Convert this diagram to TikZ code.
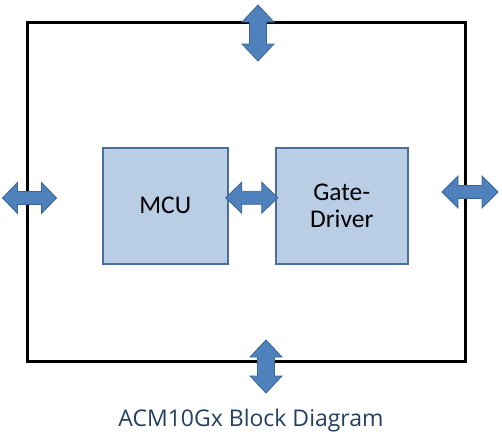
\documentclass[tikz,border=0pt]{standalone}
\usepackage{fontspec}
\usetikzlibrary{calc}
\newfontfamily\boxfont{Carlito}
\newfontfamily\capfont{Open Sans}
\definecolor{boxfill}{HTML}{B9CDE5}
\definecolor{boxline}{HTML}{4A6F9C}
\definecolor{arrfill}{HTML}{4F81BD}
\definecolor{arrline}{HTML}{3A6596}
\definecolor{captext}{HTML}{243F60}
\tikzset{
  blockbox/.style={draw=boxline, line width=2pt, fill=boxfill, inner sep=0pt,
    font=\boxfont\fontsize{25.5}{27}\selectfont, align=center},
  frame/.style={draw=black, line width=3pt},
  dblarr/.style={fill=arrfill, draw=arrline, line width=0.8pt, line join=miter},
}
% \dblarrowshape{center}{angle}{length}{head width}{shaft width}{head length}
\newcommand{\dblarrowshape}[6]{%
  \begin{scope}[shift={#1}, rotate=#2]
    \pgfmathsetmacro{\hl}{#3/2}
    \pgfmathsetmacro{\hw}{#4/2}
    \pgfmathsetmacro{\sw}{#5/2}
    \pgfmathsetmacro{\hb}{#3/2-#6}
    \path[dblarr] (-\hl,0) -- (-\hb,-\hw) -- (-\hb,-\sw) -- (\hb,-\sw) -- (\hb,-\hw)
      -- (\hl,0) -- (\hb,\hw) -- (\hb,\sw) -- (-\hb,\sw) -- (-\hb,\hw) -- cycle;
  \end{scope}}
\begin{document}
\begin{tikzpicture}[x=1pt,y=-1pt]
\useasboundingbox (0,0) rectangle (502,437);
\coordinate (tl) at (27.5,22.5);
\coordinate (br) at (465.5,361.5);
\draw[frame] (tl) rectangle (br);
\node[blockbox, minimum width=125.5pt, minimum height=116.5pt] (mcu) at (165.25,205.75) {MCU};
\node[blockbox, minimum width=132.5pt, minimum height=116.5pt] (gd) at (341.75,205.75) {Gate-\\[-0.5pt]Driver};
\coordinate (topA) at (258,33);
\coordinate (botA) at (266,366.5);
\coordinate (leftA) at (29.5,198);
\coordinate (rightA) at (470,192);
\coordinate (midA) at ($(mcu.east)!0.5!(gd.west)+(0,-8)$);
\dblarrowshape{(topA)}{90}{56}{32}{17}{17}
\dblarrowshape{(botA)}{90}{53}{32}{17}{17}
\dblarrowshape{(leftA)}{0}{54}{31}{13}{15}
\dblarrowshape{(rightA)}{0}{56}{32}{13}{16}
\dblarrowshape{(midA)}{0}{52}{31}{13}{16}
\node[font=\capfont\fontsize{23}{25}\selectfont, text=captext, anchor=base] (cap) at (251,426) {ACM10Gx Block Diagram};
\end{tikzpicture}
\end{document}
